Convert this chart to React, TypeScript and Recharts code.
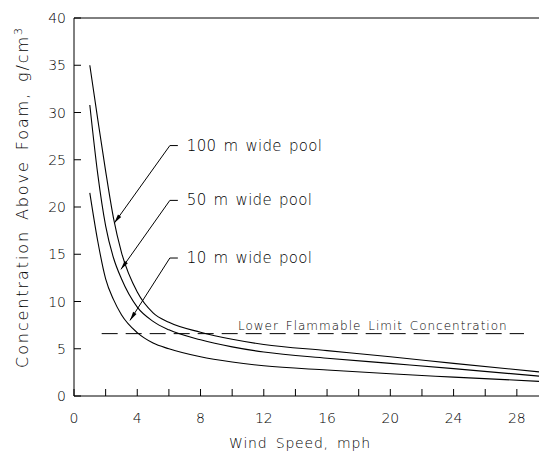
import React from 'react'
import { LineChart, Line, XAxis, YAxis, ReferenceLine } from 'recharts'

// wind speed, mph
const windSpeed = [1, 1.5, 2, 2.5, 3, 4, 5, 6, 8, 10, 12, 16, 20, 24, 29.4]
// concentration above foam, g/cm3
const pool100 = [35, 29.3, 23.8, 18.8, 15.2, 11.0, 8.8, 7.8, 6.75, 6.0, 5.45, 4.8, 4.15, 3.45, 2.55]
const pool50 = [30.8, 23.5, 18.0, 14.6, 12.4, 9.4, 7.9, 7.0, 5.95, 5.2, 4.65, 4.0, 3.45, 2.9, 2.1]
const pool10 = [21.5, 16.4, 12.4, 10.2, 8.6, 6.7, 5.6, 5.0, 4.15, 3.6, 3.2, 2.75, 2.35, 2.0, 1.55]

const xTicks = [0, 2, 4, 6, 8, 10, 12, 14, 16, 18, 20, 22, 24, 26, 28]
const yTicks = [0, 5, 10, 15, 20, 25, 30, 35, 40]

const limitValue = 6.6
const limitFrom = 1.75
const limitTo = 28.45
const limitText = 'Lower Flammable Limit Concentration'

const noteLabels = ['100 m wide pool', '50 m wide pool', '10 m wide pool']
const noteElbowX = 6.06
const noteElbowY = [26.5, 20.7, 14.6]
const noteTipX = [2.55, 2.97, 3.54]
const noteTipY = [18.3, 13.4, 8.0]

const data = windSpeed.map((w, i) => ({
  w,
  p100: pool100[i],
  p50: pool50[i],
  p10: pool10[i],
}))

const FONT = '"DejaVu Sans", sans-serif'

const XTick = ({ x, y, payload }: any) => (
  <g>
    <line x1={x} y1={y} x2={x} y2={y - 7} stroke="#000" />
    {payload.value % 4 === 0 && (
      <text x={x} y={y + 27} textAnchor="middle" fontFamily={FONT} fontSize={14} fontWeight={200} fill="#000">
        {payload.value}
      </text>
    )}
  </g>
)

const YTick = ({ x, y, payload }: any) => (
  <g>
    <line x1={x} y1={y} x2={x + 7} y2={y} stroke="#000" />
    <text x={x - 8} y={y + 5} textAnchor="end" fontFamily={FONT} fontSize={14} fontWeight={200} fill="#000">
      {payload.value}
    </text>
  </g>
)

// leader line with a filled arrowhead at the curve, short elbow and label at the other end
const noteShape = (label: string) => (p: any) => {
  const { x1, y1, x2, y2 } = p
  const a = Math.atan2(y2 - y1, x2 - x1)
  const len = 9
  const hw = 2
  const bx = x2 - len * Math.cos(a)
  const by = y2 - len * Math.sin(a)
  const pts = [
    `${x2},${y2}`,
    `${bx - hw * Math.sin(a)},${by + hw * Math.cos(a)}`,
    `${bx + hw * Math.sin(a)},${by - hw * Math.cos(a)}`,
  ].join(' ')
  return (
    <g>
      <line x1={x1} y1={y1} x2={x2} y2={y2} stroke="#000" />
      <line x1={x1} y1={y1} x2={x1 + 8} y2={y1} stroke="#000" />
      <polygon points={pts} fill="#000" />
      <text x={x1 + 17} y={y1 + 5} fontFamily={FONT} fontSize={15} fontWeight={200} letterSpacing={0.3} wordSpacing={2} fill="#000">
        {label}
      </text>
    </g>
  )
}

const limitShape = (p: any) => (
  <g>
    <line x1={p.x1} y1={p.y1} x2={p.x2} y2={p.y2} stroke="#000" strokeDasharray="16 8" />
    <text x={(p.x1 + p.x2) / 2 + 60} y={p.y1 - 4} textAnchor="middle" fontFamily={FONT} fontSize={12} fontWeight={200} letterSpacing={1} wordSpacing={2} fill="#000">
      {limitText}
    </text>
  </g>
)

export default function App() {
  return (
    <div style={{ position: 'absolute', left: 0, top: 0, background: '#fff' }}>
      <LineChart width={539} height={462} data={data} margin={{ top: 18, right: 0, bottom: 0, left: 0 }}>
        <XAxis
          dataKey="w"
          type="number"
          domain={[0, 29.4]}
          ticks={xTicks}
          interval={0}
          allowDataOverflow
          height={66}
          tickSize={0}
          tickMargin={0}
          tickLine={false}
          axisLine={{ stroke: '#000' }}
          tick={<XTick />}
          label={() => (
            <text x={300} y={448} textAnchor="middle" fontFamily={FONT} fontSize={14} fontWeight={200} letterSpacing={0.8} wordSpacing={3} fill="#000">
              Wind Speed, mph
            </text>
          )}
        />
        <YAxis
          type="number"
          domain={[0, 40]}
          ticks={yTicks}
          interval={0}
          width={74}
          tickSize={0}
          tickMargin={0}
          tickLine={false}
          axisLine={{ stroke: '#000' }}
          tick={<YTick />}
          label={() => (
            <text
              x={0}
              y={0}
              transform="translate(28 197) rotate(-90)"
              textAnchor="middle"
              fontFamily={FONT}
              fontSize={16}
              fontWeight={200}
              letterSpacing={1.9}
              wordSpacing={3}
              fill="#000"
            >
              Concentration Above Foam, g/cm<tspan dy={-6} fontSize={11}>3</tspan>
            </text>
          )}
        />
        <ReferenceLine y={40} stroke="#000" />
        <ReferenceLine
          segment={[{ x: limitFrom, y: limitValue }, { x: limitTo, y: limitValue }]}
          shape={limitShape}
        />
        {noteLabels.map((label, i) => (
          <ReferenceLine
            key={label}
            segment={[{ x: noteElbowX, y: noteElbowY[i] }, { x: noteTipX[i], y: noteTipY[i] }]}
            shape={noteShape(label)}
          />
        ))}
        <Line type="monotone" dataKey="p100" stroke="#000" strokeWidth={1.1} dot={false} isAnimationActive={false} />
        <Line type="monotone" dataKey="p50" stroke="#000" strokeWidth={1.1} dot={false} isAnimationActive={false} />
        <Line type="monotone" dataKey="p10" stroke="#000" strokeWidth={1.1} dot={false} isAnimationActive={false} />
      </LineChart>
    </div>
  )
}
